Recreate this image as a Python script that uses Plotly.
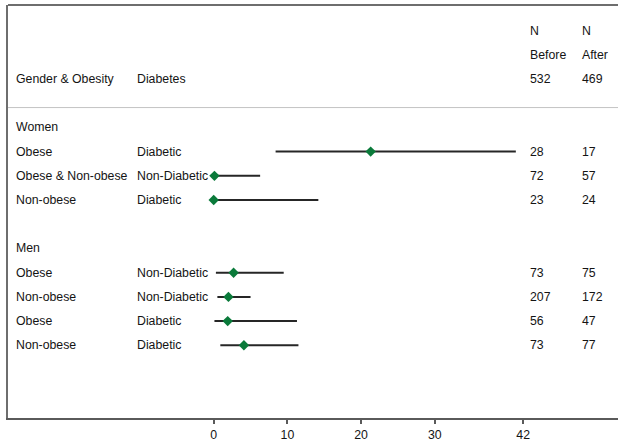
import plotly.graph_objects as go

# ---- data ----
groups = ["Women", "Men"]
group_of_row = ["Women", "Women", "Women", "Men", "Men", "Men", "Men"]
gender_obesity = ["Obese", "Obese & Non-obese", "Non-obese",
                  "Obese", "Non-obese", "Obese", "Non-obese"]
diabetes = ["Diabetic", "Non-Diabetic", "Diabetic",
            "Non-Diabetic", "Non-Diabetic", "Diabetic", "Diabetic"]
estimate = [21.3, 0.1, 0.0, 2.7, 2.0, 1.9, 4.1]
lower = [8.4, 0.1, 0.0, 0.3, 0.5, 0.1, 0.9]
upper = [41.0, 6.3, 14.2, 9.5, 5.0, 11.3, 11.5]
n_before = [28, 72, 23, 73, 207, 56, 73]
n_after = [17, 57, 24, 75, 172, 47, 77]
total_before = 532
total_after = 469
header_cols = ["Gender & Obesity", "Diabetes"]
n_head1 = ["N", "N"]
n_head2 = ["Before", "After"]
tick_vals = [0, 10, 20, 30, 42]

# ---- row layout (row index from top) ----
row_pos = []
group_pos = {}
r = 0
for g in groups:
    group_pos[g] = r
    r += 1
    for i, gg in enumerate(group_of_row):
        if gg == g:
            row_pos.append((i, r))
            r += 1
    r += 1
row_y = [0] * len(estimate)
for i, rr in row_pos:
    row_y[i] = rr

W, H = 618, 442
FONT = "Liberation Sans, Arial, Helvetica, sans-serif"
TXT = "#141414"
GREEN = "#0a7a3a"
FS = 12.3

fig = go.Figure()
fig.add_trace(go.Scatter(
    x=estimate, y=row_y, mode="markers",
    marker=dict(symbol="diamond", size=8, color=GREEN, line=dict(width=0)),
    error_x=dict(type="data", symmetric=False,
                 array=[u - e for u, e in zip(upper, estimate)],
                 arrayminus=[e - l for e, l in zip(estimate, lower)],
                 color="#262626", thickness=2, width=0),
    showlegend=False, hoverinfo="skip",
))

annotations = []
col_x = [16, 137, 530, 582]


def add_text(px, y, text):
    annotations.append(dict(
        x=px / W, xref="paper", y=y, yref="y", text=text, showarrow=False,
        xanchor="left", yanchor="middle", borderpad=0,
        font=dict(family=FONT, size=FS, color=TXT)))


# header
add_text(col_x[2] - 1, -4, n_head1[0])
add_text(col_x[3] - 1, -4, n_head1[1])
add_text(col_x[2] - 1, -3, n_head2[0])
add_text(col_x[3] - 1, -3, n_head2[1])
add_text(col_x[0] - 1, -2, header_cols[0])
add_text(col_x[1] - 1, -2, header_cols[1])
add_text(col_x[2] - 1, -2, str(total_before))
add_text(col_x[3] - 1, -2, str(total_after))

for g in groups:
    add_text(col_x[0] - 1, group_pos[g], g)
for i in range(len(estimate)):
    add_text(col_x[0] - 1, row_y[i], gender_obesity[i])
    add_text(col_x[1] - 1, row_y[i], diabetes[i])
    add_text(col_x[2] - 1, row_y[i], str(n_before[i]))
    add_text(col_x[3] - 1, row_y[i], str(n_after[i]))

# axis geometry: 0 -> px 213.7, 42 -> px 523.2
px0, px42 = 213.7, 523.2
scale = (px42 - px0) / 42.0
left_px = 8
x_lo = -(px0 - left_px) / scale
x_hi = (W - px0) / scale

top_px, bot_px = 5, 420
row0_px, row_step = 128.0, 24.33
y_top = (top_px - row0_px) / row_step
y_bot = (bot_px - row0_px) / row_step

shapes = [
    dict(type="line", xref="paper", yref="paper", x0=left_px / W, x1=1,
         y0=1, y1=1, line=dict(color="#6e6e6e", width=2)),
    dict(type="line", xref="paper", yref="y", x0=left_px / W, x1=1,
         y0=-0.82, y1=-0.82, line=dict(color="#c4c4c4", width=1)),
]

fig.update_layout(
    width=W, height=H,
    margin=dict(l=0, r=0, t=top_px, b=H - bot_px, pad=0),
    paper_bgcolor="white", plot_bgcolor="white",
    xaxis=dict(domain=[left_px / W, 1], range=[x_lo, x_hi],
               showgrid=False, zeroline=False,
               showline=True, linecolor="#5a5a5a", linewidth=2,
               ticks="outside", ticklen=4, tickwidth=1.5, tickcolor="#5a5a5a",
               tickvals=tick_vals, ticktext=[str(v) for v in tick_vals],
               tickfont=dict(family=FONT, size=FS, color=TXT),
               fixedrange=True),
    yaxis=dict(range=[y_bot, y_top], showgrid=False, zeroline=False,
               showline=True, linecolor="#6e6e6e", linewidth=2,
               showticklabels=False, ticks="", fixedrange=True),
    annotations=annotations,
    shapes=shapes,
    showlegend=False,
)

fig.write_html(
    "out.html",
    config={"displayModeBar": False},
    post_script="document.body.style.margin='0';document.body.style.padding='0';",
)
